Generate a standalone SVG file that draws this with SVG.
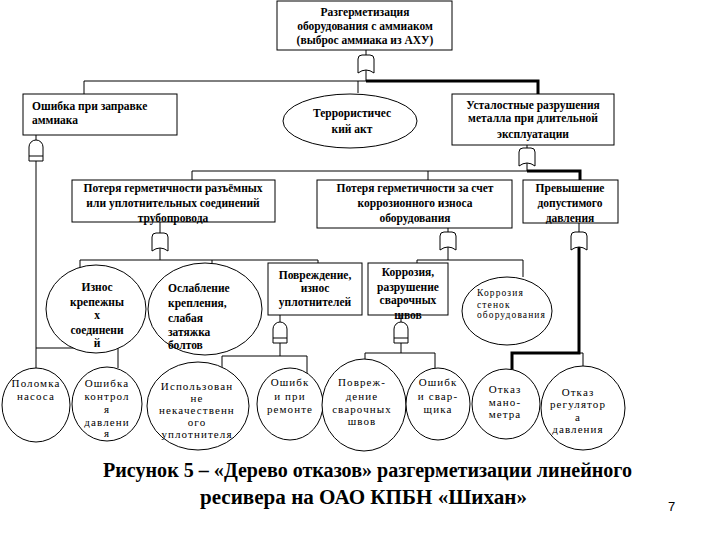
<svg xmlns="http://www.w3.org/2000/svg" xmlns:xlink="http://www.w3.org/1999/xlink" width="720" height="540" viewBox="0 0 720 540">
<style>
.n{fill:#fff;stroke:#000;stroke-width:1}
.t{font-family:"Liberation Serif","DejaVu Serif",serif;font-size:11.5px;font-weight:bold;fill:#000}
.m{text-anchor:middle}
.c{font-family:"Liberation Serif","DejaVu Serif",serif;font-size:11px;letter-spacing:1.1px;fill:#000;text-anchor:middle}
.s{font-family:"Liberation Serif","DejaVu Serif",serif;font-size:9.5px;letter-spacing:1.1px;fill:#000}
.l{fill:none;stroke:#000;stroke-width:1}
.b{fill:none;stroke:#000;stroke-width:3}
.cap{font-family:"Liberation Serif","DejaVu Serif",serif;font-size:20px;font-weight:bold;fill:#000}
</style>
<defs>
<g id="or"><path class="n" d="M-8,18 V4 Q-8,0 -4,0 H4 Q8,0 8,4 V18 Q0,12 -8,18 Z"/></g>
<g id="and"><path class="n" d="M-7,21 V7 A7,7 0 0 1 7,7 V21 Z"/><line class="l" x1="-7" y1="16" x2="7" y2="16"/></g>
</defs>
<rect width="720" height="540" fill="#fff"/>
<g id="connectors">
<path class="l" d="M366,50 V55 M366,70 V81 M84,81 H366 M84,81 V94 M358,81 V93"/>
<path class="b" d="M366,81 H538 V94"/>
<path class="l" d="M36,135 V140 M36,156 V368 M36,348 H118 V368"/>
<path class="l" d="M527,145 V148 M527,163 V171 M192,171 H527 M192,171 V180 M428,171 V180"/>
<path class="b" d="M527,171 H580 V180"/>
<path class="l" d="M160,222 V233 M160,248 V260 M80,260 H318 M80,260 V273 M212,260 V263 M318,260 V263"/>
<path class="l" d="M448,228 V232 M448,247 V260 M417,260 H523 M417,260 V263 M523,260 V277"/>
<path class="l" d="M579,223 V232"/>
<path class="b" d="M579,247 V353 H512 V370"/>
<path class="l" d="M579,353 H583 V366"/>
<path class="l" d="M280,315 V322 M280,338 V356 M222,356 H307 M222,356 V367 M307,356 V373"/>
<path class="l" d="M401,315 V322 M401,338 V353 M365,353 H435 M365,353 V359 M435,353 V368"/>
</g>
<g id="gates">
<use xlink:href="#or" href="#or" x="366" y="55"/>
<use xlink:href="#and" href="#and" x="36" y="140"/>
<use xlink:href="#or" href="#or" x="527" y="148"/>
<use xlink:href="#or" href="#or" x="160" y="233"/>
<use xlink:href="#or" href="#or" x="448" y="232"/>
<use xlink:href="#or" href="#or" x="579" y="232"/>
<use xlink:href="#and" href="#and" x="280" y="322"/>
<use xlink:href="#and" href="#and" x="401" y="322"/>
</g>
<g id="top">
<rect class="n" x="277" y="1" width="175" height="49"/>
<text class="t m" x="365" y="16">Разгерметизация</text>
<text class="t m" x="365" y="30">оборудования с аммиаком</text>
<text class="t m" x="365" y="44">(выброс аммиака из АХУ)</text>
</g>
<g id="n-zapravka">
<rect class="n" x="23" y="94" width="154" height="41"/>
<text class="t" x="32" y="110">Ошибка при заправке</text>
<text class="t" x="32" y="124">аммиака</text>
</g>
<g id="n-terror">
<ellipse class="n" cx="350" cy="121" rx="67" ry="27"/>
<text class="t m" x="352" y="117">Террористичес</text>
<text class="t m" x="352" y="133">кий акт</text>
</g>
<g id="n-ustal">
<rect class="n" x="452" y="94" width="162" height="51"/>
<text class="t m" x="533" y="109">Усталостные разрушения</text>
<text class="t m" x="533" y="122">металла при длительной</text>
<text class="t m" x="533" y="138">эксплуатации</text>
</g>
<g id="n-razem">
<rect class="n" x="72" y="180" width="203" height="42"/>
<text class="t m" x="173" y="192">Потеря герметичности разъёмных</text>
<text class="t m" x="173" y="207">или уплотнительных соединений</text>
<text class="t m" x="173" y="222">трубопровода</text>
</g>
<g id="n-korr">
<rect class="n" x="317" y="180" width="195" height="48"/>
<text class="t m" x="415" y="192">Потеря герметичности за счет</text>
<text class="t m" x="415" y="207">коррозионного износа</text>
<text class="t m" x="415" y="222">оборудования</text>
</g>
<g id="n-davl">
<rect class="n" x="523" y="180" width="95" height="43"/>
<text class="t m" x="570" y="192">Превышение</text>
<text class="t m" x="570" y="207">допустимого</text>
<text class="t m" x="570" y="222">давления</text>
</g>
<g id="n-iznos">
<ellipse class="n" cx="96" cy="309" rx="50" ry="44"/>
<text class="t m" x="97" y="291">Износ</text>
<text class="t m" x="97" y="306">крепежны</text>
<text class="t m" x="97" y="319">х</text>
<text class="t m" x="97" y="334">соединени</text>
<text class="t m" x="97" y="347">й</text>
</g>
<g id="n-oslab">
<ellipse class="n" cx="205" cy="309" rx="57" ry="46"/>
<text class="t" x="168" y="292">Ослабление</text>
<text class="t" x="168" y="307">крепления,</text>
<text class="t" x="168" y="322">слабая</text>
<text class="t" x="168" y="336">затяжка</text>
<text class="t" x="168" y="349">болтов</text>
</g>
<g id="n-povr">
<rect class="n" x="268" y="263" width="94" height="52"/>
<text class="t m" x="315" y="279">Повреждение,</text>
<text class="t m" x="315" y="292">износ</text>
<text class="t m" x="315" y="306">уплотнителей</text>
</g>
<g id="n-korrshv">
<rect class="n" x="368" y="263" width="80" height="52"/>
<text class="t m" x="408" y="276">Коррозия,</text>
<text class="t m" x="408" y="291">разрушение</text>
<text class="t m" x="408" y="304">сварочных</text>
<text class="t m" x="408" y="319">швов</text>
</g>
<g id="n-stenok">
<ellipse class="n" cx="507" cy="311" rx="45" ry="34"/>
<text class="s" x="477" y="296">Коррозия</text>
<text class="s" x="477" y="308">стенок</text>
<text class="s" x="477" y="318">оборудования</text>
</g>
<g id="n-nasos">
<ellipse class="n" cx="36" cy="405" rx="34" ry="37"/>
<text class="c" x="36" y="387">Поломка</text>
<text class="c" x="36" y="400">насоса</text>
</g>
<g id="n-kontrol">
<ellipse class="n" cx="107" cy="404" rx="35" ry="37"/>
<text class="c" x="107" y="387">Ошибка</text>
<text class="c" x="107" y="400">контрол</text>
<text class="c" x="107" y="413">я</text>
<text class="c" x="107" y="426">давлени</text>
<text class="c" x="107" y="437">я</text>
</g>
<g id="n-uplot">
<ellipse class="n" cx="198" cy="406" rx="51" ry="44"/>
<text class="c" x="197" y="390">Использован</text>
<text class="c" x="197" y="402">не</text>
<text class="c" x="197" y="414">некачественн</text>
<text class="c" x="197" y="426">ого</text>
<text class="c" x="197" y="438">уплотнителя</text>
</g>
<g id="n-remont">
<ellipse class="n" cx="290" cy="404" rx="33" ry="36"/>
<text class="c" x="290" y="386">Ошибк</text>
<text class="c" x="290" y="400">и при</text>
<text class="c" x="290" y="413">ремонте</text>
</g>
<g id="n-svshv">
<ellipse class="n" cx="364" cy="405" rx="42" ry="46"/>
<text class="c" x="362" y="386">Повреж-</text>
<text class="c" x="362" y="400">дение</text>
<text class="c" x="362" y="413">сварочных</text>
<text class="c" x="362" y="425">швов</text>
</g>
<g id="n-svarshik">
<ellipse class="n" cx="438" cy="404" rx="32" ry="36"/>
<text class="c" x="438" y="386">Ошибк</text>
<text class="c" x="438" y="400">и свар-</text>
<text class="c" x="438" y="413">щика</text>
</g>
<g id="n-manometr">
<ellipse class="n" cx="506" cy="404" rx="34" ry="35"/>
<text class="c" x="505" y="393">Отказ</text>
<text class="c" x="505" y="406">мано-</text>
<text class="c" x="505" y="418">метра</text>
</g>
<g id="n-regul">
<ellipse class="n" cx="583" cy="408" rx="42" ry="42"/>
<text class="c" x="578" y="396">Отказ</text>
<text class="c" x="578" y="408">регулятор</text>
<text class="c" x="578" y="421">а</text>
<text class="c" x="578" y="433">давления</text>
</g>
<g id="caption">
<text class="cap" x="103" y="477" textLength="529" lengthAdjust="spacingAndGlyphs">Рисунок 5 – «Дерево отказов» разгерметизации линейного</text>
<text class="cap" x="200" y="504" textLength="327" lengthAdjust="spacingAndGlyphs">ресивера на ОАО КПБН «Шихан»</text>
<text x="668" y="511" font-family="Liberation Sans, Arial, sans-serif" font-size="13" fill="#000">7</text>
</g>
</svg>
